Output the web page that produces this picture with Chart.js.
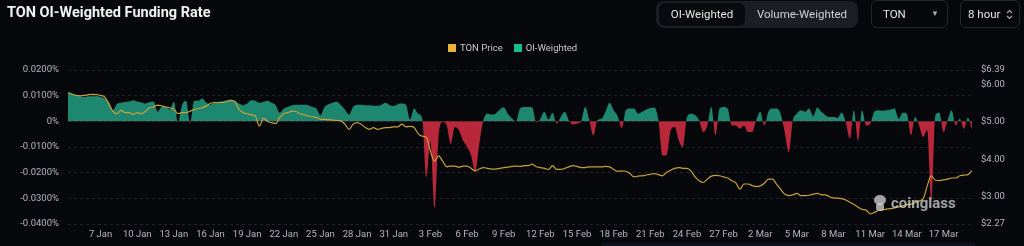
<!DOCTYPE html>
<html>
<head>
<meta charset="utf-8">
<script src="https://cdn.jsdelivr.net/npm/chart.js@4.4.1/dist/chart.umd.min.js"></script>
<style>
  body { margin: 0; background: #06080c; width: 1024px; height: 246px; overflow: hidden; position: relative; font-family: Roboto, "Noto Sans", sans-serif; }
  #title { position: absolute; left: 7px; top: 4px; color: #f2f2f2; font-size: 14.5px; font-weight: 700; }
  .seg { position: absolute; left: 656px; top: 1px; width: 202px; height: 27px; background: #1b1e23; border-radius: 8px; }
  .seg .on { position: absolute; left: 3px; top: 2px; width: 86px; height: 23px; background: #080a0d; border-radius: 6px; color: #e6e6e6; font-size: 11.5px; line-height: 23px; text-align: center; }
  .seg .off { position: absolute; left: 92px; top: 2px; width: 108px; height: 23px; color: #cfd1d4; font-size: 11.5px; line-height: 23px; text-align: center; }
  .box { position: absolute; top: 0px; height: 26px; border: 1px solid #24272d; border-radius: 6px; color: #e6e6e6; font-size: 11.5px; line-height: 26px; }
  #legend { position: absolute; left: 448px; top: 42px; color: #c9cbce; font-size: 9.5px; display: flex; align-items: center; }
  #legend i { display: inline-block; width: 8px; height: 8px; margin-right: 4px; }
  #wm { position: absolute; left: 873px; top: 194px; color: rgba(215,215,215,0.75); font-size: 15px; font-weight: 700; display: flex; align-items: center; }
  #bar { position: absolute; left: 602px; top: 243px; width: 373px; height: 3px; background: #0c1320; }
  #c { position: absolute; left: 0; top: 0; }
</style>
</head>
<body>
<canvas id="c" width="1024" height="246"></canvas>
<div id="title">TON OI-Weighted Funding Rate</div>
<div class="seg"><div class="on">OI-Weighted</div><div class="off">Volume-Weighted</div></div>
<div class="box" style="left:871px;width:75px;"><span style="margin-left:11px">TON</span><span style="position:absolute;left:59px;top:0;font-size:8px;color:#aaa">&#9660;</span></div>
<div class="box" style="left:960px;width:58px;"><span style="margin-left:7px">8 hour</span><svg style="position:absolute;left:45px;top:8px" width="7" height="11" viewBox="0 0 7 11"><path d="M1 4 L3.5 1.5 L6 4 M1 7 L3.5 9.5 L6 7" stroke="#aaa" stroke-width="1.1" fill="none"/></svg></div>
<div id="legend"><i style="background:#e6b43c"></i>TON Price<i style="background:#19be86;margin-left:11px"></i>OI-Weighted</div>
<div id="wm"><svg width="14" height="18" viewBox="0 0 14 18"><ellipse cx="7" cy="6" rx="6" ry="5" fill="rgba(215,215,215,0.75)"/><rect x="3" y="9" width="8" height="8" rx="3" fill="rgba(215,215,215,0.75)"/></svg><span style="margin-left:4px">coinglass</span></div>
<div id="bar"></div>
<script>
// funding rate, % per 8h
const fundingRate = [
  0.0115, 0.0108, 0.0102, 0.0098, 0.0095, 0.0098, 0.0098, 0.0099, 0.0095, 0.0089,
  0.0076, 0.0043, 0.0067, 0.0072, 0.0075, 0.0077, 0.0082, 0.0077, 0.0073, 0.0069,
  0.0075, 0.0077, 0.0037, 0.0056, 0.0056, 0.0046, 0.0076, -0.0003, 0.0063, 0.0080,
  -0.0006, 0.0080, 0.0080, 0.0089, 0.0072, 0.0065, 0.0073, 0.0076, 0.0078, 0.0082,
  0.0085, 0.0080, 0.0069, 0.0063, 0.0069, 0.0082, 0.0080, 0.0072, 0.0076, 0.0080,
  0.0072, 0.0063, 0.0033, 0.0050, 0.0056, 0.0063, 0.0065, 0.0065, 0.0065, 0.0063,
  0.0056, 0.0050, 0.0024, 0.0056, 0.0067, 0.0072, 0.0076, 0.0063, 0.0046, 0.0026,
  0.0056, 0.0065, 0.0065, 0.0063, 0.0063, 0.0061, 0.0061, 0.0065, 0.0072, 0.0063,
  0.0060, 0.0067, 0.0069, 0.0065, 0.0007, 0.0050, 0.0030, 0.0010, -0.0218, -0.0080,
  -0.0340, -0.0060, -0.0003, -0.0016, -0.0088, -0.0022, -0.0035, -0.0075, -0.0100, -0.0133,
  -0.0199, -0.0088, 0.0005, 0.0030, 0.0027, 0.0030, 0.0045, 0.0055, 0.0030, 0.0012,
  0.0000, 0.0050,
  0.0056, 0.0056, 0.0054, -0.0004, 0.0010, 0.0037, 0.0007, 0.0033, -0.0009, 0.0017,
  0.0037, 0.0004, -0.0012, -0.0009, 0.0000, 0.0056, 0.0007, -0.0055, 0.0004, 0.0010,
  0.0037, 0.0072, 0.0043, 0.0020, -0.0026, 0.0043, 0.0050, 0.0050, 0.0030, 0.0037,
  0.0046, 0.0052, 0.0054, 0.0004, -0.0133, -0.0133, -0.0035, -0.0022, -0.0075, -0.0101,
  0.0017, 0.0030, 0.0024, 0.0004, -0.0042, -0.0016, 0.0056, -0.0055, 0.0050, 0.0056,
  0.0050, -0.0016, -0.0016, -0.0029, -0.0016, -0.0042, -0.0042, 0.0004, 0.0037, -0.0016,
  0.0037, 0.0050, 0.0050, 0.0030, -0.0042, -0.0120, 0.0004, 0.0030, 0.0043, 0.0037,
  0.0050, 0.0020, 0.0054, 0.0037, 0.0024, 0.0017, 0.0017, 0.0014, 0.0033, -0.0003,
  -0.0068, 0.0043, -0.0075, 0.0043, -0.0016, -0.0009, 0.0037, 0.0043, 0.0041, 0.0043,
  0.0046, 0.0050, 0.0010, 0.0033, 0.0030, -0.0055, 0.0017, -0.0016, -0.0061, -0.0035,
  -0.0310, 0.0024, 0.0033, -0.0042, 0.0004, 0.0043, -0.0016, 0.0010, -0.0029, 0.0014,
  -0.0033
];

// TON price, USD
const tonPrice = [
  5.78, 5.74, 5.71, 5.70, 5.71, 5.73, 5.74, 5.73, 5.71, 5.67,
  5.49, 5.29, 5.22, 5.31, 5.25, 5.25, 5.20, 5.25, 5.22, 5.28,
  5.38, 5.40, 5.45, 5.43, 5.40, 5.38, 5.34, 5.22, 5.25, 5.25,
  5.29, 5.33, 5.36, 5.38, 5.43, 5.50, 5.52, 5.52, 5.52, 5.54,
  5.58, 5.54, 5.34, 5.25, 5.22, 5.19, 5.16, 4.89, 5.10, 5.01,
  4.98, 4.96, 5.12, 5.22, 5.25, 5.29, 5.28, 5.22, 5.19, 5.16,
  5.14, 5.12, 5.07, 5.07, 5.06, 5.05, 5.04, 5.03, 4.94, 4.80,
  4.94, 4.98, 4.94, 4.85, 4.80, 4.85, 4.80, 4.83, 4.85, 4.85,
  4.87, 4.87, 4.94, 4.87, 4.88, 4.85, 4.69, 4.62, 4.59, 4.22,
  3.95, 4.09, 3.95, 3.80, 3.82, 3.82, 3.79, 3.82, 3.82, 3.76,
  3.69, 3.74, 3.78, 3.76, 3.74, 3.74, 3.76, 3.78, 3.79, 3.81,
  3.82, 3.81,
  3.83, 3.83, 3.87, 3.80, 3.78, 3.76, 3.73, 3.83, 3.73, 3.73,
  3.76, 3.80, 3.83, 3.81, 3.78, 3.78, 3.80, 3.80, 3.80, 3.80,
  3.81, 3.80, 3.73, 3.68, 3.69, 3.68, 3.62, 3.53, 3.55, 3.56,
  3.58, 3.60, 3.62, 3.59, 3.56, 3.65, 3.71, 3.76, 3.78, 3.76,
  3.76, 3.69, 3.53, 3.43, 3.38, 3.47, 3.55, 3.57, 3.56, 3.53,
  3.50, 3.43, 3.37, 3.20, 3.34, 3.34, 3.30, 3.27, 3.29, 3.36,
  3.47, 3.47, 3.34, 3.20, 3.07, 3.03, 3.05, 3.09, 3.03, 3.03,
  3.04, 3.07, 3.09, 3.05, 3.05, 3.00, 2.97, 2.96, 2.95, 2.91,
  2.85, 2.79, 2.72, 2.66, 2.64, 2.54, 2.58, 2.63, 2.65, 2.67,
  2.68, 2.70, 2.73, 2.76, 2.79, 2.80, 2.84, 2.89, 2.94, 3.29,
  3.56, 3.44, 3.43, 3.45, 3.47, 3.50, 3.50, 3.56, 3.58, 3.59,
  3.70
];

const priceTicks = [2.27, 3, 4, 5, 6, 6.39];
const months = ['Jan', 'Feb', 'Mar'];

// one category per 8h funding interval, starting 4 Jan 08:00
const labels = [];
const start = Date.UTC(2025, 0, 4, 8);
for (let i = 0; i < fundingRate.length; i++) {
    const d = new Date(start + i * 8 * 3600 * 1000);
    labels.push(d.getUTCDate() + ' ' + months[d.getUTCMonth()]);
}

const tickFont = { family: 'Roboto', size: 9.5 };
const tickColor = '#b3b6bb';

new Chart(document.getElementById('c').getContext('2d'), {
    type: 'line',
    data: {
        labels: labels,
        datasets: [{
            label: 'TON Price',
            data: tonPrice,
            yAxisID: 'y1',
            borderColor: '#c9a03a',
            borderWidth: 1.2,
            pointRadius: 0,
            cubicInterpolationMode: 'monotone',
            order: 0
        }, {
            label: 'OI-Weighted',
            data: fundingRate,
            yAxisID: 'y',
            borderWidth: 0,
            borderColor: 'rgba(0,0,0,0)',
            pointRadius: 0,
            cubicInterpolationMode: 'monotone',
            fill: { target: 'origin', above: '#1e8770', below: '#b8283a' },
            order: 1
        }]
    },
    options: {
        responsive: false,
        devicePixelRatio: 1,
        animation: false,
        layout: { padding: { top: 70, left: 0, right: 0, bottom: 0 } },
        plugins: { legend: { display: false }, tooltip: { enabled: false } },
        scales: {
            x: {
                grid: { display: false, drawTicks: false },
                border: { display: false },
                afterFit: s => { s.height = 22; },
                ticks: {
                    autoSkip: false,
                    maxRotation: 0,
                    minRotation: 0,
                    padding: 5,
                    color: tickColor,
                    font: tickFont,
                    callback: function (v, i) {
                        return (i - 8) % 9 === 0 ? this.getLabelForValue(v) : '';
                    }
                }
            },
            y: {
                position: 'left',
                min: -0.04,
                max: 0.02,
                afterFit: s => { s.width = 68; },
                grid: { color: 'rgba(255,255,255,0.11)', drawTicks: false },
                border: { display: false, dash: [3, 3] },
                ticks: {
                    stepSize: 0.01,
                    padding: 9,
                    color: tickColor,
                    font: tickFont,
                    callback: v => Math.abs(v) < 1e-9 ? '0%' : v.toFixed(4) + '%'
                }
            },
            y1: {
                position: 'right',
                min: 2.27,
                max: 6.39,
                afterFit: s => { s.width = 52; },
                afterBuildTicks: s => { s.ticks = priceTicks.map(v => ({ value: v })); },
                grid: { display: false, drawTicks: false },
                border: { display: false },
                ticks: {
                    padding: 9,
                    color: tickColor,
                    font: tickFont,
                    callback: v => '$' + v.toFixed(2)
                }
            }
        }
    }
});
</script>
</body>
</html>
